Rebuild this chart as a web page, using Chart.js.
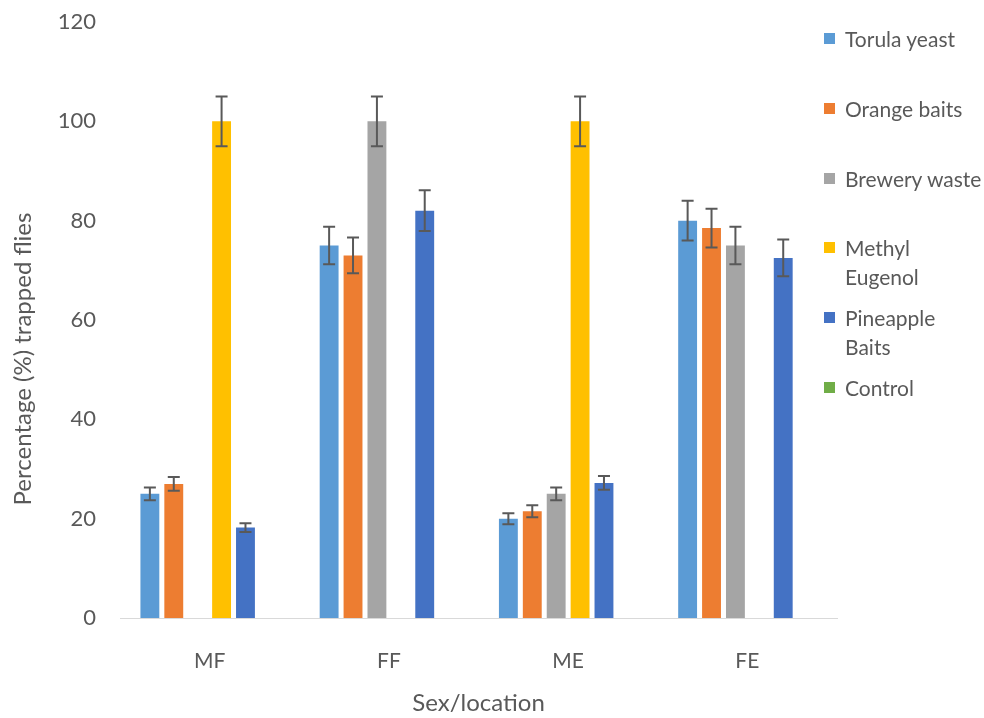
<!DOCTYPE html>
<html lang="en">
<head>
  <meta charset="UTF-8">
  <title>Percentage trapped flies</title>
  <script src="https://cdn.jsdelivr.net/npm/chart.js@4"></script>
  <style>
    body { margin: 0; background: #fff; }
    #wrap { position: relative; width: 984px; height: 718px; overflow: hidden; }
    #legend { position: absolute; left: 824px; top: 0; width: 160px; font-family: Lato, sans-serif; }
    .item { position: absolute; left: 0; display: flex; align-items: flex-start; }
    .swatch { width: 11px; height: 11px; margin-top: 9px; margin-right: 10px; flex: none; }
    .label { font-size: 21px; line-height: 29px; color: #595959; white-space: pre; }
  </style>
</head>
<body>
  <div id="wrap">
    <canvas id="chart"></canvas>
    <div id="legend"></div>
  </div>

  <script>
    // data
    const sites = ['MF', 'FF', 'ME', 'FE'];
    const seriesNames = ['Torula yeast', 'Orange baits', 'Brewery waste', 'Methyl\nEugenol', 'Pineapple\nBaits', 'Control'];
    const torula = [25, 75, 20, 80];
    const torulaErr = [1.3, 3.8, 1.1, 4];
    const orange = [27, 73, 21.5, 78.5];
    const orangeErr = [1.4, 3.6, 1.2, 3.9];
    const brewery = [null, 100, 25, 75];
    const breweryErr = [null, 5, 1.3, 3.8];
    const methyl = [100, null, 100, null];
    const methylErr = [5, null, 5, null];
    const pineapple = [18.2, 82, 27.2, 72.5];
    const pineappleErr = [0.9, 4.1, 1.4, 3.7];
    const control = [0, 0, 0, 0];
    const yTicks = [0, 20, 40, 60, 80, 100, 120];

    const colors = ['#5B9BD5', '#ED7D31', '#A5A5A5', '#FFC000', '#4472C4', '#70AD47'];
    const values = [torula, orange, brewery, methyl, pineapple, control];
    const errors = [torulaErr, orangeErr, breweryErr, methylErr, pineappleErr, null];
    const textColor = '#595959';
    const font = 'Lato, sans-serif';

    // error bars drawn with the chart's own scales
    const errorBars = {
      id: 'errorBars',
      afterDatasetsDraw(chart) {
        const ctx = chart.ctx;
        const y = chart.scales.y;
        ctx.save();
        ctx.strokeStyle = '#595959';
        ctx.lineWidth = 2;
        errors.forEach((errs, i) => {
          if (!errs) return;
          const meta = chart.getDatasetMeta(i);
          meta.data.forEach((bar, j) => {
            const v = values[i][j];
            if (v == null || errs[j] == null) return;
            const top = y.getPixelForValue(v + errs[j]);
            const bottom = y.getPixelForValue(v - errs[j]);
            ctx.beginPath();
            ctx.moveTo(bar.x, top); ctx.lineTo(bar.x, bottom);
            ctx.moveTo(bar.x - 6, top); ctx.lineTo(bar.x + 6, top);
            ctx.moveTo(bar.x - 6, bottom); ctx.lineTo(bar.x + 6, bottom);
            ctx.stroke();
          });
        });
        ctx.restore();
      }
    };

    // y title sits a little below the middle of the plot in the original
    const yTitle = {
      id: 'yTitle',
      afterDraw(chart) {
        const ctx = chart.ctx;
        ctx.save();
        ctx.translate(23, 359);
        ctx.rotate(-Math.PI / 2);
        ctx.font = '24px ' + font;
        ctx.fillStyle = textColor;
        ctx.textAlign = 'center';
        ctx.textBaseline = 'middle';
        ctx.fillText('Percentage (%) trapped flies', 0, 0);
        ctx.restore();
      }
    };

    new Chart(document.getElementById('chart'), {
      type: 'bar',
      data: {
        labels: sites,
        datasets: seriesNames.map((name, i) => ({
          label: name,
          data: values[i],
          backgroundColor: colors[i],
          borderWidth: 0,
          categoryPercentage: 0.8,
          barPercentage: 0.79
        }))
      },
      options: {
        responsive: true,
        maintainAspectRatio: false,
        animation: false,
        layout: { padding: { left: 0, right: 147, top: 22, bottom: 0 } },
        plugins: {
          legend: { display: false },
          tooltip: { enabled: false }
        },
        scales: {
          x: {
            grid: { display: false, drawTicks: false },
            border: { display: true, color: '#D9D9D9', width: 1 },
            ticks: { color: textColor, font: { family: font, size: 21 }, padding: 31 },
            title: {
              display: true, text: 'Sex/location', color: textColor,
              font: { family: font, size: 24 }, padding: { top: 0, bottom: 0 }
            },
            afterFit(scale) { scale.height = 100; }
          },
          y: {
            min: 0, max: 120,
            afterBuildTicks(scale) { scale.ticks = yTicks.map(v => ({ value: v })); },
            grid: { display: false, drawTicks: false },
            border: { display: false },
            ticks: { color: textColor, font: { family: font, size: 22 }, padding: 24 },
            afterFit(scale) {
              scale.width = 120;
              // tick padding is only wanted sideways, not above/below the plot
              scale.paddingTop = 0;
              scale.paddingBottom = 0;
            }
          }
        }
      },
      plugins: [errorBars, yTitle]
    });

    // legend on the right, one entry every ~70px like the original
    const legend = document.getElementById('legend');
    seriesNames.forEach((name, i) => {
      const item = document.createElement('div');
      item.className = 'item';
      item.style.top = (24 + 69.8 * i) + 'px';
      item.innerHTML = '<span class="swatch" style="background:' + colors[i] + '"></span><span class="label"></span>';
      item.querySelector('.label').textContent = name;
      legend.appendChild(item);
    });
  </script>
</body>
</html>
